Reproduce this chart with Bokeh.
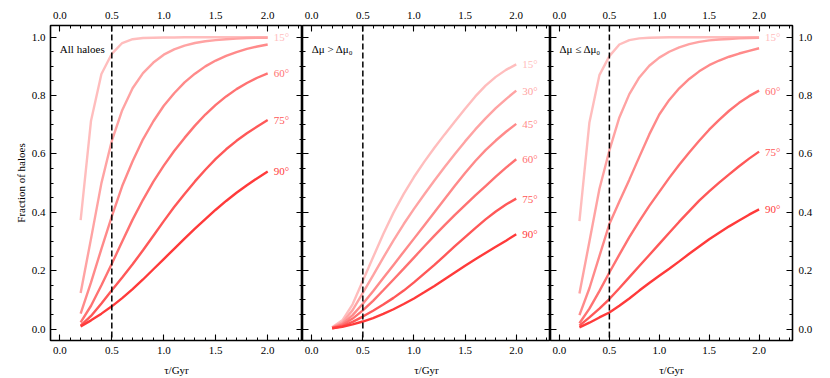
from bokeh.plotting import figure
from bokeh.layouts import row
from bokeh.models import (ColumnDataSource, LinearAxis, SingleIntervalTicker,
                          PrintfTickFormatter, Span, Range1d, Label)
from bokeh.embed import file_html
from bokeh.resources import INLINE
from bokeh.core.properties import value

# ---------------- data ----------------
tau = [0.2, 0.3, 0.4, 0.5, 0.6, 0.7, 0.8, 0.9, 1.0, 1.1,
       1.2, 1.3, 1.4, 1.5, 1.6, 1.7, 1.8, 1.9, 2.0]

angles = ["15°", "30°", "45°", "60°", "75°", "90°"]
colors = ["#ffbdbd", "#ffa3a3", "#ff8a8a", "#ff7272", "#ff5858", "#ff3a3a"]

# Panel 1: All haloes
all_15 = [0.373, 0.714, 0.874, 0.943, 0.980, 0.993, 0.997, 0.998, 0.999, 0.999,
          1.0, 1.0, 1.0, 1.0, 1.0, 1.0, 1.0, 1.0, 1.0]
all_30 = [0.124, 0.31, 0.50, 0.645, 0.75, 0.825, 0.877, 0.913, 0.94, 0.958,
          0.971, 0.98, 0.986, 0.99, 0.993, 0.995, 0.997, 0.998, 0.998]
all_45 = [0.053, 0.16, 0.275, 0.386, 0.49, 0.575, 0.65, 0.712, 0.765, 0.808,
          0.845, 0.875, 0.90, 0.92, 0.936, 0.949, 0.96, 0.968, 0.975]
all_60 = [0.023, 0.08, 0.15, 0.224, 0.30, 0.375, 0.443, 0.505, 0.56, 0.61,
          0.655, 0.697, 0.735, 0.768, 0.797, 0.822, 0.843, 0.861, 0.876]
all_75 = [0.012, 0.045, 0.088, 0.133, 0.177, 0.222, 0.27, 0.32, 0.37, 0.418,
          0.463, 0.506, 0.546, 0.583, 0.616, 0.645, 0.671, 0.694, 0.716]
all_90 = [0.009, 0.03, 0.053, 0.078, 0.106, 0.137, 0.17, 0.205, 0.24, 0.275,
          0.31, 0.344, 0.377, 0.409, 0.439, 0.467, 0.493, 0.517, 0.54]

# Panel 2: delta mu > delta mu_0
gt_15 = [0.006, 0.03, 0.085, 0.166, 0.246, 0.326, 0.399, 0.463, 0.521, 0.573,
         0.621, 0.667, 0.711, 0.755, 0.797, 0.834, 0.864, 0.888, 0.907]
gt_30 = [0.005, 0.023, 0.065, 0.124, 0.184, 0.245, 0.304, 0.36, 0.412, 0.461,
         0.509, 0.555, 0.6, 0.643, 0.684, 0.722, 0.757, 0.788, 0.817]
gt_45 = [0.004, 0.018, 0.048, 0.087, 0.13, 0.175, 0.22, 0.265, 0.31, 0.355,
         0.40, 0.446, 0.491, 0.535, 0.576, 0.613, 0.646, 0.676, 0.703]
gt_60 = [0.004, 0.014, 0.036, 0.064, 0.097, 0.133, 0.17, 0.207, 0.245, 0.283,
         0.32, 0.356, 0.391, 0.425, 0.458, 0.49, 0.522, 0.553, 0.582]
gt_75 = [0.003, 0.01, 0.025, 0.043, 0.063, 0.084, 0.107, 0.132, 0.16, 0.19,
         0.22, 0.252, 0.284, 0.315, 0.346, 0.376, 0.403, 0.427, 0.447]
gt_90 = [0.003, 0.008, 0.016, 0.026, 0.038, 0.052, 0.068, 0.086, 0.105, 0.126,
         0.148, 0.171, 0.194, 0.217, 0.239, 0.261, 0.282, 0.303, 0.325]

# Panel 3: delta mu <= delta mu_0
le_15 = [0.37, 0.708, 0.87, 0.935, 0.975, 0.99, 0.996, 0.998, 0.999, 1.0,
         1.0, 1.0, 1.0, 1.0, 1.0, 1.0, 1.0, 1.0, 1.0]
le_30 = [0.122, 0.30, 0.48, 0.612, 0.725, 0.805, 0.862, 0.902, 0.93, 0.95,
         0.965, 0.976, 0.984, 0.989, 0.992, 0.994, 0.996, 0.997, 0.998]
le_45 = [0.048, 0.14, 0.25, 0.36, 0.437, 0.512, 0.59, 0.667, 0.735, 0.785,
         0.825, 0.857, 0.883, 0.904, 0.92, 0.933, 0.944, 0.953, 0.962]
le_60 = [0.02, 0.07, 0.13, 0.194, 0.255, 0.315, 0.37, 0.422, 0.47, 0.518,
         0.563, 0.605, 0.645, 0.683, 0.717, 0.748, 0.775, 0.798, 0.817]
le_75 = [0.012, 0.04, 0.07, 0.103, 0.14, 0.178, 0.216, 0.254, 0.292, 0.33,
         0.368, 0.404, 0.44, 0.472, 0.502, 0.53, 0.558, 0.584, 0.608]
le_90 = [0.006, 0.022, 0.04, 0.057, 0.08, 0.105, 0.132, 0.158, 0.183, 0.207,
         0.232, 0.258, 0.283, 0.308, 0.33, 0.352, 0.372, 0.392, 0.41]

panel_titles = ["All haloes", "Δμ > Δμ₀", "Δμ ≤ Δμ₀"]
panel_curves = [
    [all_15, all_30, all_45, all_60, all_75, all_90],
    [gt_15, gt_30, gt_45, gt_60, gt_75, gt_90],
    [le_15, le_30, le_45, le_60, le_75, le_90],
]
panel_labelled = [
    ["15°", "60°", "75°", "90°"],
    ["15°", "30°", "45°", "60°", "75°", "90°"],
    ["15°", "60°", "75°", "90°"],
]
tau0 = 0.5

# ---------------- style ----------------
FONT = "Liberation Serif"
FS = "11px"
FRAME_H = 315
frame_widths = [252, 248, 242]


def style_axis(ax, show_labels):
    ax.axis_line_color = None
    ax.major_tick_in = 6
    ax.major_tick_out = 0
    ax.minor_tick_in = 3
    ax.minor_tick_out = 0
    ax.major_tick_line_color = "black"
    ax.minor_tick_line_color = "black"
    ax.major_tick_line_width = 1.1
    ax.minor_tick_line_width = 1
    ax.major_label_text_font = FONT
    ax.axis_label_text_font = FONT
    ax.axis_label_text_font_style = "normal"
    ax.axis_label_text_font_size = FS
    ax.axis_label_text_color = "black"
    if show_labels:
        ax.major_label_text_font_size = FS
        ax.major_label_text_color = "black"
    else:
        ax.major_label_text_font_size = "0px"
        ax.major_label_text_color = None
        ax.major_label_standoff = 0


def x_axis(show=True):
    ax = LinearAxis(ticker=SingleIntervalTicker(interval=0.5, num_minor_ticks=5),
                    formatter=PrintfTickFormatter(format="%.1f"))
    style_axis(ax, show)
    return ax


def y_axis(show):
    ax = LinearAxis(ticker=SingleIntervalTicker(interval=0.2, num_minor_ticks=4),
                    formatter=PrintfTickFormatter(format="%.1f"))
    style_axis(ax, show)
    return ax


figs = []
for i in range(3):
    left_b = 50 if i == 0 else 0
    right_b = 30 if i == 2 else 0
    p = figure(frame_width=frame_widths[i], frame_height=FRAME_H,
               x_range=Range1d(-0.09, 2.335), y_range=Range1d(-0.039, 1.04),
               x_axis_location=None, y_axis_location=None,
               output_backend="svg", toolbar_location=None,
               min_border_left=left_b, min_border_right=right_b,
               min_border_top=25, min_border_bottom=36)
    p.grid.visible = False
    p.outline_line_color = "black"
    p.outline_line_width = 1.6
    p.background_fill_color = "white"
    p.border_fill_color = "white"

    top = x_axis(True)
    top.major_label_standoff = 7
    p.add_layout(top, "above")
    bot = x_axis(True)
    bot.major_label_standoff = 6
    bot.axis_label = "τ/Gyr"
    bot.axis_label_standoff = 7
    p.add_layout(bot, "below")

    left = y_axis(i == 0)
    if i == 0:
        left.axis_label = "Fraction of haloes"
        left.major_label_standoff = 5
        left.axis_label_standoff = 2
    p.add_layout(left, "left")
    right = y_axis(i == 2)
    if i == 2:
        right.major_label_standoff = 6
    p.add_layout(right, "right")

    p.add_layout(Span(location=tau0, dimension="height", line_color="black",
                      line_dash="6 3", line_width=1.5))

    for ang, col, ys in zip(angles, colors, panel_curves[i]):
        p.line(tau, ys, line_color=col, line_width=2.4)

    lab_x, lab_y, lab_t, lab_c = [], [], [], []
    for ang, col, ys in zip(angles, colors, panel_curves[i]):
        if ang in panel_labelled[i]:
            lab_x.append(tau[-1])
            lab_y.append(ys[-1])
            lab_t.append(ang)
            lab_c.append(col)
    src = ColumnDataSource(dict(x=lab_x, y=lab_y, t=lab_t, c=lab_c))
    p.text(x="x", y="y", text="t", text_color="c", source=src, x_offset=6,
           text_font=value(FONT), text_font_size=FS, text_baseline="middle",
           text_align="left")

    p.add_layout(Label(x=0.0, y=0.96, text=panel_titles[i], text_font=FONT,
                       text_font_size=FS, text_color="black",
                       text_baseline="middle", text_align="left"))
    figs.append(p)

layout = row(*figs, spacing=0)
open("out.html", "w").write(file_html(layout, INLINE))
